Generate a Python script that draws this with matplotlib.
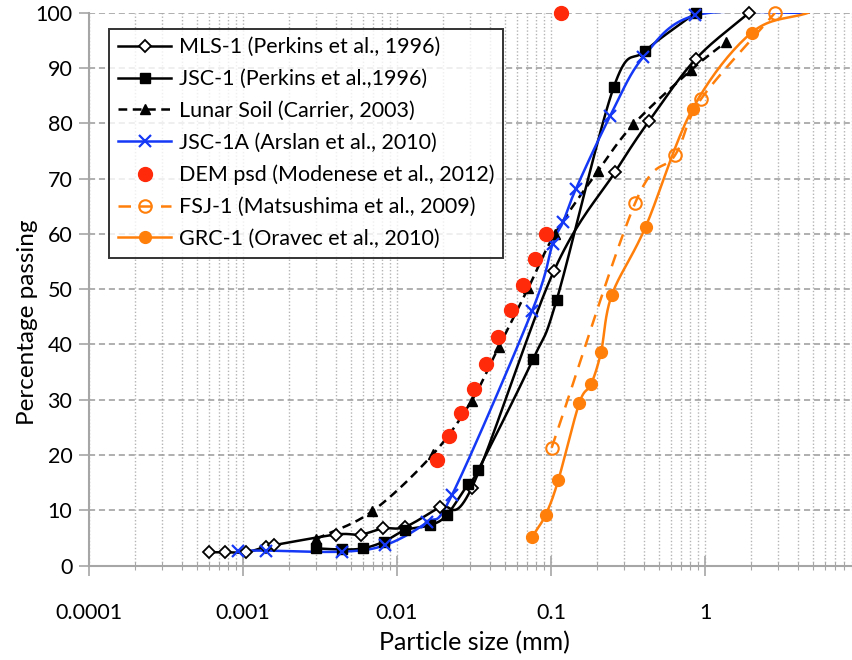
import matplotlib.pyplot as plt
import numpy as np
from matplotlib.lines import Line2D
from matplotlib.ticker import FixedLocator, LogLocator, NullFormatter

plt.rcParams['font.family'] = ['Lato', 'DejaVu Sans']

# particle size (mm) / percentage passing
mls_x = [0.0006, 0.00076, 0.00105, 0.0014, 0.0016, 0.004, 0.0058, 0.0081, 0.0113,
         0.019, 0.0305, 0.1045, 0.261, 0.433, 0.87, 1.93]
mls_y = [2.4, 2.4, 2.4, 3.4, 3.7, 5.6, 5.6, 6.7, 7.0, 10.6, 14.0, 53.3, 71.2, 80.4, 91.6, 100]

jsc_x = [0.003, 0.0044, 0.006, 0.0082, 0.0113, 0.0164, 0.021, 0.029, 0.0337, 0.0767,
         0.109, 0.256, 0.41, 0.87]
jsc_y = [3.1, 2.9, 3.1, 4.3, 6.4, 7.3, 9.1, 14.8, 17.3, 37.4, 48.1, 86.6, 93.1, 100]

lunar_x = [0.003, 0.0069, 0.0171, 0.0305, 0.0459, 0.0712, 0.106, 0.201, 0.343, 0.81, 1.37]
lunar_y = [4.8, 9.8, 20.1, 29.8, 39.6, 50.2, 60.0, 71.3, 79.8, 89.6, 94.7]

jsc1a_x = [0.00093, 0.00141, 0.0044, 0.0084, 0.0156, 0.0227, 0.0755, 0.1026, 0.1196,
           0.145, 0.243, 0.398, 0.86, 4.7]
jsc1a_y = [2.7, 2.7, 2.5, 3.7, 7.8, 12.7, 46.1, 58.2, 62.1, 68.1, 81.4, 92.0, 99.5, 100]

dem_x = [0.0181, 0.0217, 0.0262, 0.0314, 0.0378, 0.0455, 0.0546, 0.0655, 0.0788, 0.093, 0.1156]
dem_y = [19.0, 23.4, 27.6, 32.0, 36.4, 41.3, 46.2, 50.8, 55.5, 60.0, 100]

fsj_x = [0.101, 0.351, 0.638, 0.938, 2.85]
fsj_y = [21.3, 65.5, 74.2, 84.3, 100]

grc_x = [0.0755, 0.0924, 0.1114, 0.1527, 0.182, 0.2113, 0.248, 0.412, 0.83, 2.01, 4.7]
grc_y = [5.2, 9.2, 15.4, 29.4, 32.8, 38.6, 48.9, 61.3, 82.6, 96.4, 100]

xticks = [0.0001, 0.001, 0.01, 0.1, 1]
xticklabels = ['0.0001', '0.001', '0.01', '0.1', '1']

BLUE = '#1438F5'
ORANGE = '#FF7F0A'
RED = '#FF2A0A'


def smooth(x, y, n=20):
    # Catmull-Rom through the points in log-x space (like Excel's smoothed line)
    lx = np.log10(x)
    y = np.asarray(y, float)
    px = np.concatenate([[2 * lx[0] - lx[1]], lx, [2 * lx[-1] - lx[-2]]])
    py = np.concatenate([[2 * y[0] - y[1]], y, [2 * y[-1] - y[-2]]])
    t = np.linspace(0, 1, n, endpoint=False)
    ox, oy = [], []
    for i in range(1, len(px) - 2):
        for arr, out in ((px, ox), (py, oy)):
            p0, p1, p2, p3 = arr[i - 1:i + 3]
            out.append(0.5 * (2 * p1 + (-p0 + p2) * t
                              + (2 * p0 - 5 * p1 + 4 * p2 - p3) * t ** 2
                              + (-p0 + 3 * p1 - 3 * p2 + p3) * t ** 3))
    ox.append([lx[-1]])
    oy.append([y[-1]])
    return 10 ** np.concatenate(ox), np.concatenate(oy)


fig = plt.figure(figsize=(8.53, 6.6), dpi=100)
ax = fig.add_axes([89 / 853, 94.5 / 660, 770 / 853, 552.8 / 660])

ax.set_xscale('log')
ax.set_xlim(0.0001, 10)
ax.set_ylim(0, 100)

# grid
ax.set_axisbelow(True)
ax.yaxis.set_major_locator(FixedLocator(range(0, 101, 10)))
ax.xaxis.set_major_locator(FixedLocator(xticks))
ax.xaxis.set_minor_locator(LogLocator(base=10, subs=np.arange(2, 10), numticks=20))
ax.xaxis.set_minor_formatter(NullFormatter())
ax.set_xticklabels(xticklabels)
ax.grid(True, axis='y', which='major', color='#9a9a9a', ls=(0, (4, 2.5)), lw=1.1)
ax.grid(True, axis='x', which='both', color='#b4b4b4', ls=(0, (1, 1.5)), lw=1.0)

lw = 1.8
# lines
sx, sy = smooth(mls_x, mls_y)
ax.plot(sx, sy, color='black', lw=lw, zorder=3)
sx, sy = smooth(jsc_x, jsc_y)
ax.plot(sx, sy, color='black', lw=lw, zorder=3)
sx, sy = smooth(lunar_x, lunar_y)
ax.plot(sx, sy, color='black', lw=lw, ls=(0, (3.5, 2.2)), zorder=3)
sx, sy = smooth(jsc1a_x, jsc1a_y)
ax.plot(sx, sy, color=BLUE, lw=lw, zorder=3)
sx, sy = smooth(fsj_x, fsj_y)
ax.plot(sx, sy, color=ORANGE, lw=lw, ls=(0, (5, 3.5)), zorder=3)
sx, sy = smooth(grc_x, grc_y)
ax.plot(sx, sy, color=ORANGE, lw=lw, zorder=3)

# markers
ax.plot(mls_x, mls_y, ls='none', marker='D', ms=6.5, mfc='white', mec='black', mew=1.3,
        zorder=4, clip_on=False)
ax.plot(jsc_x, jsc_y, ls='none', marker='s', ms=7, color='black', zorder=4, clip_on=False)
ax.plot(lunar_x, lunar_y, ls='none', marker='^', ms=7, color='black', zorder=4, clip_on=False)
ax.plot(jsc1a_x[:-1], jsc1a_y[:-1], ls='none', marker='x', ms=8, mew=1.6, color=BLUE,
        zorder=4, clip_on=False)
ax.plot(dem_x, dem_y, ls='none', marker='o', ms=10, color=RED, zorder=5, clip_on=False)
ax.plot(fsj_x, fsj_y, ls='none', marker='o', ms=9, mfc='none', mec=ORANGE, mew=1.5,
        zorder=4, clip_on=False)
ax.plot(grc_x[:-1], grc_y[:-1], ls='none', marker='o', ms=8.5, color=ORANGE, zorder=4,
        clip_on=False)

# axes style
for s in ('top', 'right'):
    ax.spines[s].set_visible(False)
for s in ('left', 'bottom'):
    ax.spines[s].set_color('#a6a6a6')
    ax.spines[s].set_linewidth(1.5)
ax.tick_params(axis='y', which='major', direction='out', length=7, width=1.2,
               color='#a6a6a6', labelsize=15.5, pad=5)
ax.tick_params(axis='x', which='major', direction='inout', length=14, width=1.2,
               color='#a6a6a6', labelsize=15.5, pad=20)
ax.tick_params(axis='x', which='minor', direction='inout', length=6, width=0.8,
               color='#a6a6a6')

ax.set_xlabel('Particle size (mm)', fontsize=18, labelpad=6)
ax.set_ylabel('Percentage passing', fontsize=17.5)
ax.yaxis.set_label_coords(-0.066, 0.44)

handles = [
    Line2D([], [], color='black', lw=lw, marker='D', ms=6.5, mfc='white', mec='black', mew=1.3),
    Line2D([], [], color='black', lw=lw, marker='s', ms=7),
    Line2D([], [], color='black', lw=lw, ls=(0, (3.5, 2.2)), marker='^', ms=7),
    Line2D([], [], color=BLUE, lw=lw, marker='x', ms=8, mew=1.6),
    Line2D([], [], color=RED, ls='none', marker='o', ms=10),
    Line2D([], [], color=ORANGE, lw=lw, ls=(0, (5, 3.5)), marker='o', ms=9, mfc='none',
           mec=ORANGE, mew=1.5),
    Line2D([], [], color=ORANGE, lw=lw, marker='o', ms=8.5),
]
labels = ['MLS-1 (Perkins et al., 1996)', 'JSC-1 (Perkins et al.,1996)',
          'Lunar Soil (Carrier, 2003)', 'JSC-1A (Arslan et al., 2010)',
          'DEM psd (Modenese et al., 2012)', 'FSJ-1 (Matsushima et al., 2009)',
          'GRC-1 (Oravec et al., 2010)']
leg = ax.legend(handles, labels, loc='upper left', bbox_to_anchor=(20 / 770, 1 - 16 / 552.8),
                fontsize=15.5, frameon=True, fancybox=False, edgecolor='black',
                handlelength=2.5, handletextpad=0.35, labelspacing=0.55, borderpad=0.4,
                borderaxespad=0)
leg.get_frame().set_linewidth(1.4)
leg.set_zorder(6)

fig.savefig('out.png', dpi=100)
